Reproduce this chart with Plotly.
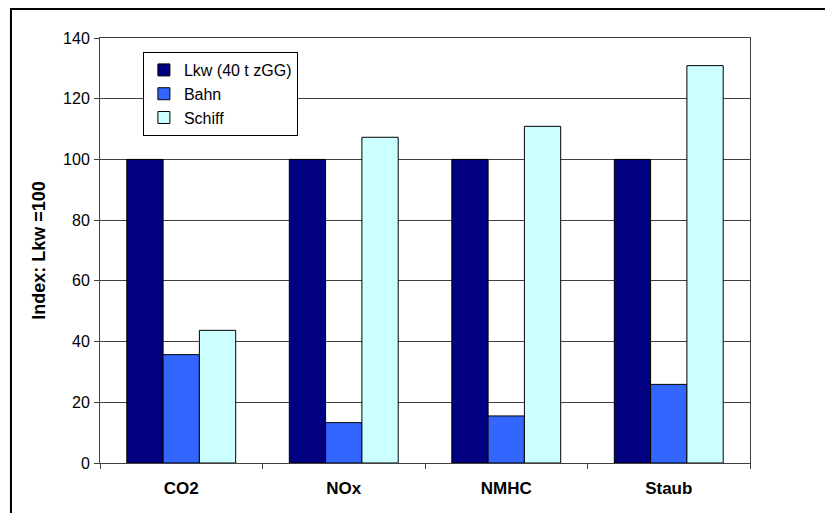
import plotly.graph_objects as go

# Emission index per transport mode (Lkw = 100)
categories = ["CO2", "NOx", "NMHC", "Staub"]
series_names = ["Lkw (40 t zGG)", "Bahn", "Schiff"]
lkw = [100, 100, 100, 100]
bahn = [35.7, 13.3, 15.5, 25.9]
schiff = [43.7, 107.3, 110.9, 130.9]
y_ticks = [0, 20, 40, 60, 80, 100, 120, 140]

colors = ["#000080", "#3366FF", "#CCFFFF"]
values = [lkw, bahn, schiff]

FONT = "Liberation Sans, Arial, sans-serif"

fig = go.Figure()
for name, vals, col in zip(series_names, values, colors):
    fig.add_trace(go.Bar(
        x=categories, y=vals, name=name,
        marker=dict(color=col, line=dict(color="#000000", width=1)),
    ))

fig.update_layout(
    width=825, height=513,
    margin=dict(l=100, r=75, t=38, b=50),
    paper_bgcolor="white", plot_bgcolor="white",
    barmode="group", bargap=0.33, bargroupgap=0,
    font=dict(family=FONT, size=16, color="#000000"),
    showlegend=True,
    legend=dict(
        x=0.066, y=0.967, xanchor="left", yanchor="top",
        bgcolor="white", bordercolor="#000000", borderwidth=1,
        font=dict(family=FONT, size=16, color="#000000"),
        tracegroupgap=0, itemwidth=30,
    ),
    xaxis=dict(
        showline=True, linecolor="#404040", linewidth=1, mirror=True,
        ticks="outside", ticklen=5, tickcolor="#404040", tickson="boundaries",
        tickfont=dict(family=FONT, size=17, color="#000000", weight="bold"),
        ticklabelstandoff=10,
        showgrid=False, fixedrange=True,
    ),
    yaxis=dict(
        range=[0, 140], tickvals=y_ticks,
        showline=True, linecolor="#404040", linewidth=1, mirror=True,
        ticks="outside", ticklen=5, tickcolor="#404040",
        showgrid=True, gridcolor="#404040", gridwidth=1,
        tickfont=dict(family=FONT, size=16, color="#000000"),
        ticklabelstandoff=1,
        zeroline=False, fixedrange=True,
    ),
    annotations=[dict(
        text="<b>Index: Lkw =100</b>", textangle=-90,
        xref="paper", yref="paper", x=-0.095, y=0.5,
        xanchor="center", yanchor="middle", showarrow=False,
        font=dict(family=FONT, size=18, color="#000000"),
    )],
    shapes=[dict(
        type="rect", xref="paper", yref="paper",
        x0=-0.137, x1=1.3, y0=-0.3, y1=1.068,
        line=dict(color="#000000", width=2), fillcolor="rgba(0,0,0,0)",
        layer="below",
    )],
)

fig.write_html("out.html")
